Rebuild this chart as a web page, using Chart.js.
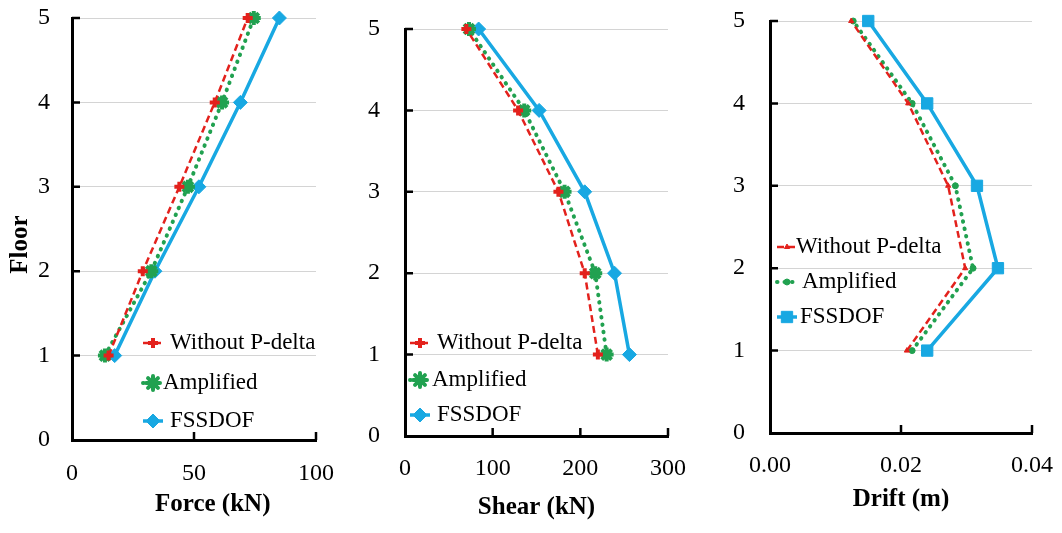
<!DOCTYPE html>
<html>
<head>
<meta charset="utf-8">
<script src="https://cdn.jsdelivr.net/npm/chart.js@4/dist/chart.umd.min.js"></script>
<style>
    body { margin: 0; background: #fff; }
    #wrap { position: relative; width: 1062px; height: 533px; overflow: hidden; }
    canvas { position: absolute; top: 0; }
</style>
</head>
<body>
<div id="wrap">
    <canvas id="forceChart" width="340" height="533" style="left:0px"></canvas>
    <canvas id="shearChart" width="350" height="533" style="left:340px"></canvas>
    <canvas id="driftChart" width="372" height="533" style="left:690px"></canvas>
</div>
<script>
// Data
const floors = [1, 2, 3, 4, 5];
const seriesNames = ['Without P-delta', 'Amplified', 'FSSDOF'];

const forceNoPDelta = [15, 29, 44, 58.5, 72];
const forceAmplified = [13.5, 32.5, 47.5, 61.5, 74.5];
const forceFSSDOF = [17.5, 34, 52, 69, 85];

const shearNoPDelta = [220, 205, 175, 129, 70];
const shearAmplified = [230, 217, 182, 136, 73];
const shearFSSDOF = [256, 239, 205, 153, 84];

const driftNoPDelta = [0.0209, 0.0298, 0.0272, 0.0211, 0.0124];
const driftAmplified = [0.0217, 0.031, 0.0283, 0.0217, 0.0127];
const driftFSSDOF = [0.024, 0.0348, 0.0316, 0.024, 0.015];

// Tick labels
const floorTicks = [0, 1, 2, 3, 4, 5];
const forceTicks = [0, 50, 100];
const shearTicks = [0, 100, 200, 300];
const driftTicks = [0, 0.02, 0.04];

// Colours / fonts
const RED = '#e3211c';
const GREEN = '#21a150';
const BLUE = '#18a8e2';
const SERIF = '"Liberation Serif", "Times New Roman", serif';
const NONE = 'rgba(0,0,0,0)';

Chart.defaults.color = '#000';
Chart.defaults.font.family = SERIF;

// Inward tick marks on both axes (Excel style)
const innerTicks = {
    id: 'innerTicks',
    afterDraw(chart) {
        const {ctx, chartArea, scales: {x, y}} = chart;
        ctx.save();
        ctx.strokeStyle = '#000';
        ctx.lineWidth = 2.5;
        ctx.beginPath();
        x.ticks.forEach(t => {
            if (t.value === x.min) return;
            const px = x.getPixelForValue(t.value);
            ctx.moveTo(px, chartArea.bottom);
            ctx.lineTo(px, chartArea.bottom - 8);
        });
        y.ticks.forEach(t => {
            if (t.value === y.min) return;
            const py = y.getPixelForValue(t.value);
            ctx.moveTo(chartArea.left, py);
            ctx.lineTo(chartArea.left + 8, py);
        });
        ctx.stroke();
        ctx.restore();
    }
};

// Legend drawn inside the plot area
const insideLegend = {
    id: 'insideLegend',
    afterDraw(chart, args, opts) {
        if (!opts || !opts.rows) return;
        const ctx = chart.ctx;
        chart.data.datasets.forEach((ds, i) => {
            const y = opts.rows[i];
            const mx = opts.x;
            ctx.save();
            // short line sample
            ctx.strokeStyle = ds.borderColor;
            ctx.lineWidth = ds.borderWidth;
            ctx.lineCap = ds.borderCapStyle || 'butt';
            ctx.setLineDash(ds.borderDash || []);
            ctx.beginPath();
            ctx.moveTo(mx - 10, y);
            ctx.lineTo(mx + 10, y);
            ctx.stroke();
            ctx.setLineDash([]);
            // marker
            ctx.fillStyle = ds.pointBackgroundColor;
            ctx.strokeStyle = ds.pointBorderColor;
            ctx.lineWidth = ds.pointBorderWidth;
            if (Chart.helpers && Chart.helpers.drawPoint) {
                Chart.helpers.drawPoint(ctx, {
                    pointStyle: ds.pointStyle,
                    radius: ds.pointRadius,
                    borderWidth: ds.pointBorderWidth,
                    rotation: 0
                }, mx, y);
            } else {
                ctx.beginPath();
                ctx.arc(mx, y, ds.pointRadius, 0, Math.PI * 2);
                ctx.fill();
            }
            // text
            ctx.fillStyle = '#000';
            ctx.font = opts.font;
            ctx.textBaseline = 'middle';
            ctx.textAlign = 'left';
            ctx.fillText(ds.label, opts.textX[i], y);
            ctx.restore();
        });
    }
};

function makeDataset(label, values, style) {
    return {
        label,
        data: values.map((v, i) => ({x: v, y: floors[i]})),
        borderColor: style.color,
        backgroundColor: style.color,
        borderWidth: style.width,
        borderDash: style.dash,
        borderCapStyle: style.cap || 'butt',
        pointStyle: style.point,
        pointRadius: style.radius,
        pointHoverRadius: style.radius,
        pointBorderWidth: style.pointWidth,
        pointBackgroundColor: style.color,
        pointBorderColor: style.color,
        tension: 0,
        fill: false,
        clip: false
    };
}

function makeChart(id, o) {
    const ctx = document.getElementById(id).getContext('2d');
    return new Chart(ctx, {
        type: 'line',
        data: {
            datasets: o.values.map((vals, i) => makeDataset(seriesNames[i], vals, o.styles[i]))
        },
        options: {
            responsive: false,
            animation: false,
            events: [],
            layout: {padding: o.padding},
            plugins: {
                legend: {display: false},
                tooltip: {enabled: false},
                insideLegend: o.legend
            },
            scales: {
                x: {
                    type: 'linear',
                    min: o.xTicks[0],
                    max: o.xTicks[o.xTicks.length - 1],
                    afterBuildTicks: s => { s.ticks = o.xTicks.map(v => ({value: v})); },
                    afterFit: s => { s.height = o.xHeight; },
                    grid: {
                        display: true,
                        drawOnChartArea: false,
                        drawTicks: true,
                        tickLength: o.xTickPad,
                        tickColor: NONE
                    },
                    border: {display: true, color: '#000', width: 3},
                    ticks: {
                        padding: 0,
                        maxRotation: 0,
                        font: {size: 24},
                        callback: o.xFormat || (v => v)
                    },
                    title: {
                        display: true,
                        text: o.xTitle,
                        font: {size: 25, weight: 'bold'},
                        padding: {top: 0, bottom: o.xTitlePad}
                    }
                },
                y: {
                    type: 'linear',
                    min: 0,
                    max: 5,
                    afterBuildTicks: s => { s.ticks = floorTicks.map(v => ({value: v})); },
                    afterFit: s => { s.width = o.yWidth; },
                    grid: {
                        drawTicks: true,
                        tickLength: o.yTickPad,
                        tickColor: NONE,
                        color: c => (c.tick && c.tick.value === 0) ? NONE : '#d4d4d4',
                        lineWidth: 1
                    },
                    border: {display: true, color: '#000', width: 3},
                    ticks: {padding: 0, font: {size: 24}},
                    title: {
                        display: !!o.yTitle,
                        text: o.yTitle || '',
                        font: {size: 25, weight: 'bold'},
                        padding: {top: 6, bottom: 0}
                    }
                }
            }
        },
        plugins: [innerTicks, insideLegend]
    });
}

const legendFont = '23px ' + SERIF;

// Force
makeChart('forceChart', {
    values: [forceNoPDelta, forceAmplified, forceFSSDOF],
    styles: [
        {color: RED, width: 2.5, dash: [7, 4], point: 'cross', radius: 5, pointWidth: 4},
        {color: GREEN, width: 4, dash: [0.5, 7], cap: 'round', point: 'star', radius: 7, pointWidth: 4},
        {color: BLUE, width: 3.5, dash: [], point: 'rectRot', radius: 7, pointWidth: 1}
    ],
    xTicks: forceTicks,
    xTitle: '\u00a0\u00a0\u00a0\u00a0\u00a0\u00a0Force (kN)',
    yTitle: 'Floor\u00a0\u00a0\u00a0\u00a0\u00a0',
    padding: {top: 18, right: 24, bottom: 0, left: 0},
    yWidth: 72,
    xHeight: 93,
    xTickPad: 19,
    yTickPad: 22,
    xTitlePad: 13,
    legend: {x: 153, textX: [170, 163, 170], rows: [343, 383, 421], font: legendFont}
});

// Shear
makeChart('shearChart', {
    values: [shearNoPDelta, shearAmplified, shearFSSDOF],
    styles: [
        {color: RED, width: 2.5, dash: [7, 4], point: 'cross', radius: 5, pointWidth: 4},
        {color: GREEN, width: 4, dash: [0.5, 7], cap: 'round', point: 'star', radius: 7, pointWidth: 4},
        {color: BLUE, width: 3.5, dash: [], point: 'rectRot', radius: 7, pointWidth: 1}
    ],
    xTicks: shearTicks,
    xTitle: 'Shear (kN)',
    padding: {top: 29, right: 22, bottom: 0, left: 0},
    yWidth: 65,
    xHeight: 97,
    xTickPad: 18,
    yTickPad: 25,
    xTitlePad: 10,
    legend: {x: 80, textX: [97, 92, 97], rows: [343, 380, 415], font: legendFont}
});

// Drift
makeChart('driftChart', {
    values: [driftNoPDelta, driftAmplified, driftFSSDOF],
    styles: [
        {color: RED, width: 2.5, dash: [7, 4], point: 'triangle', radius: 3, pointWidth: 1},
        {color: GREEN, width: 4, dash: [0.5, 7], cap: 'round', point: 'circle', radius: 3, pointWidth: 1},
        {color: BLUE, width: 3.5, dash: [], point: 'rect', radius: 8, pointWidth: 1}
    ],
    xTicks: driftTicks,
    xFormat: v => Number(v).toFixed(2),
    xTitle: 'Drift (m)',
    padding: {top: 21, right: 30, bottom: 0, left: 0},
    yWidth: 80,
    xHeight: 100,
    xTickPad: 18,
    yTickPad: 25,
    xTitlePad: 18,
    legend: {x: 97, textX: [106, 112, 110], rows: [247, 282, 317], font: legendFont}
});
</script>
</body>
</html>
